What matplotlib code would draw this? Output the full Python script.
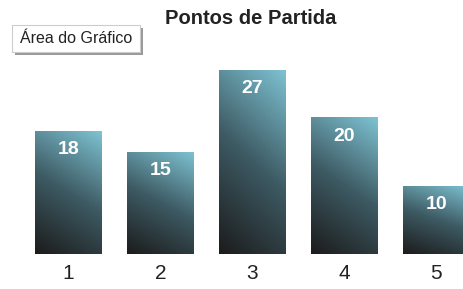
import matplotlib
matplotlib.use('Agg')
import matplotlib.pyplot as plt
import numpy as np
from matplotlib.colors import LinearSegmentedColormap

# data
categories = ['1', '2', '3', '4', '5']
values = [18, 15, 27, 20, 10]
title = 'Pontos de Partida'
area_label = 'Área do Gráfico'

plt.rcParams['font.family'] = ['Liberation Sans', 'DejaVu Sans']

fig = plt.figure(figsize=(4.64, 2.89), dpi=100)
ax = fig.add_axes([0.0485, 0.1211, 0.991, 0.709])

x = np.arange(len(values))
bars = ax.bar(x, values, width=0.72, color='none', edgecolor='none')

cmap = LinearSegmentedColormap.from_list('g', ['#1c1c1c', '#3d5a63', '#7ec2d2'])
yy, xx = np.mgrid[0:1:100j, 0:1:50j]
grad = 0.75 * yy + 0.25 * xx
for b in bars:
    x0, w, h = b.get_x(), b.get_width(), b.get_height()
    im = ax.imshow(grad, cmap=cmap, origin='lower', aspect='auto',
                   extent=[x0, x0 + w, 0, h], vmin=0, vmax=1, zorder=2)
    im.set_clip_path(b)

for xi, v in zip(x, values):
    ax.text(xi, v - 1.5, str(v), ha='center', va='top', color='white',
            fontsize=14, fontweight='bold', zorder=3)

ax.set_xlim(-0.5, 4.5)
ax.set_ylim(0, 30)
ax.set_xticks(x)
ax.set_xticklabels(categories, fontsize=15, color='#222222')
ax.tick_params(axis='x', length=0, pad=7)
ax.set_yticks([])
for s in ax.spines.values():
    s.set_visible(False)

fig.text(0.54, 1 - 18 / 289, title, ha='center', va='center', fontsize=14.5,
         fontweight='bold', color='#222222')

# "Área do Gráfico" box with shadow
fig.patches.append(plt.Rectangle((15 / 464, 1 - 55 / 289), 128 / 464, 27 / 289,
                                 transform=fig.transFigure, facecolor='#9a9a9a',
                                 edgecolor='none'))
fig.patches.append(plt.Rectangle((12 / 464, 1 - 52 / 289), 128 / 464, 27 / 289,
                                 transform=fig.transFigure, facecolor='white',
                                 edgecolor='#cccccc', linewidth=0.8))
fig.text(76 / 464, 1 - 38.5 / 289, area_label, ha='center', va='center',
         fontsize=11.5, color='#222222')

fig.savefig('out.png', dpi=100)
